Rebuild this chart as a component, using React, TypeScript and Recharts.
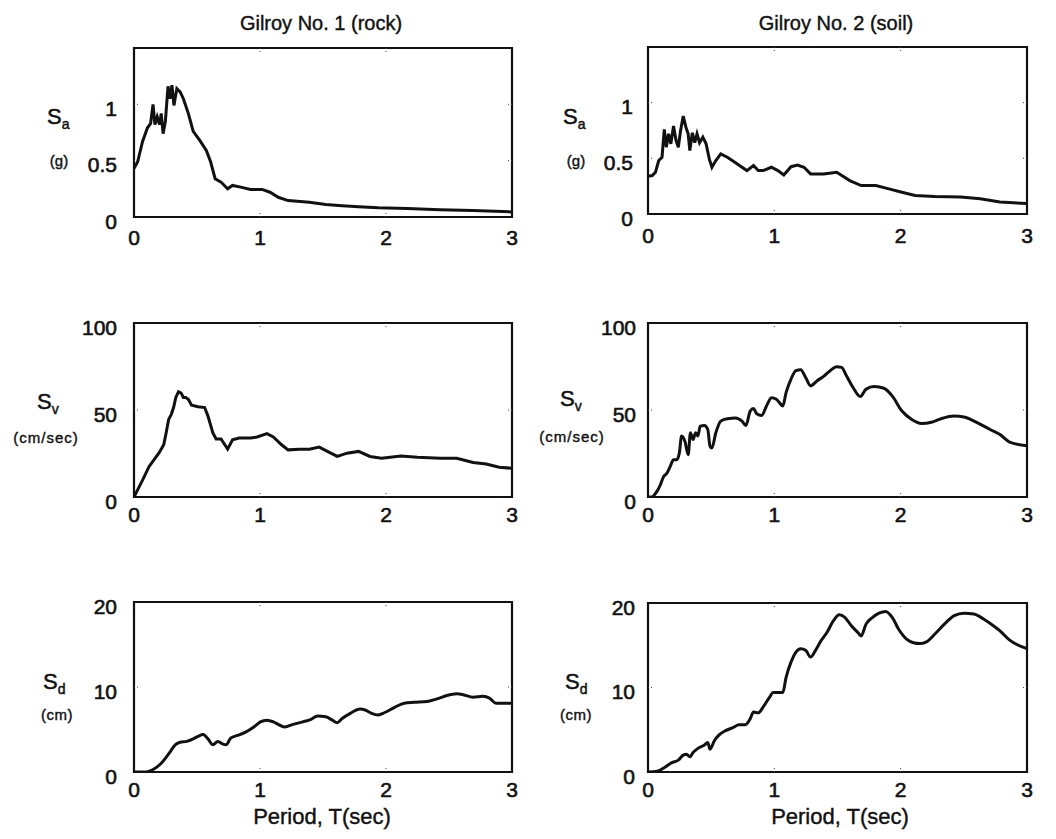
import React from "react";
import { LineChart, Line, XAxis, YAxis, ReferenceArea, ReferenceLine } from "recharts";

// Period (sec) samples and spectral values for each panel
const rockSaPeriod = [0, 0.029, 0.068, 0.106, 0.132, 0.151, 0.166, 0.184, 0.203, 0.216, 0.231, 0.249, 0.27, 0.286, 0.301, 0.317, 0.34, 0.366, 0.392, 0.431, 0.47, 0.522, 0.574, 0.608, 0.644, 0.691, 0.743, 0.782, 0.847, 0.925, 1.016, 1.08, 1.145, 1.223, 1.392, 1.522, 1.652, 1.782, 1.938, 2.17, 2.43, 2.69, 3.0];
const rockSaValues = [0.43, 0.49, 0.67, 0.79, 0.83, 1.0, 0.82, 0.89, 0.82, 0.92, 0.74, 0.85, 1.16, 1.05, 1.17, 0.99, 1.14, 1.11, 1.05, 0.92, 0.76, 0.68, 0.59, 0.49, 0.34, 0.31, 0.25, 0.28, 0.265, 0.245, 0.245, 0.22, 0.175, 0.146, 0.13, 0.11, 0.1, 0.092, 0.082, 0.075, 0.065, 0.057, 0.045];

const soilSaPeriod = [0, 0.034, 0.059, 0.085, 0.111, 0.129, 0.145, 0.163, 0.181, 0.202, 0.222, 0.24, 0.258, 0.279, 0.3, 0.318, 0.331, 0.351, 0.37, 0.388, 0.408, 0.434, 0.46, 0.486, 0.506, 0.537, 0.576, 0.628, 0.693, 0.744, 0.783, 0.835, 0.873, 0.912, 0.977, 1.028, 1.075, 1.132, 1.183, 1.235, 1.287, 1.39, 1.494, 1.597, 1.687, 1.804, 1.907, 2.01, 2.114, 2.269, 2.475, 2.63, 2.786, 3.0];
const soilSaValues = [0.34, 0.345, 0.375, 0.48, 0.51, 0.76, 0.6, 0.72, 0.63, 0.79, 0.66, 0.6, 0.75, 0.88, 0.78, 0.72, 0.57, 0.73, 0.64, 0.72, 0.64, 0.69, 0.63, 0.49, 0.42, 0.48, 0.54, 0.51, 0.46, 0.42, 0.39, 0.435, 0.39, 0.39, 0.42, 0.39, 0.35, 0.425, 0.44, 0.42, 0.36, 0.36, 0.375, 0.3, 0.255, 0.255, 0.226, 0.196, 0.167, 0.158, 0.152, 0.137, 0.107, 0.095];

const rockSvPeriod = [0, 0.068, 0.119, 0.158, 0.197, 0.236, 0.255, 0.275, 0.296, 0.314, 0.332, 0.353, 0.374, 0.392, 0.41, 0.431, 0.457, 0.509, 0.561, 0.587, 0.626, 0.652, 0.691, 0.743, 0.782, 0.834, 0.925, 0.977, 1.055, 1.106, 1.171, 1.223, 1.314, 1.392, 1.47, 1.535, 1.613, 1.691, 1.782, 1.873, 1.964, 2.119, 2.249, 2.431, 2.561, 2.691, 2.795, 2.899, 3.0];
const rockSvValues = [0, 9.7, 17.4, 21.3, 25.2, 30, 36.8, 44.6, 47.5, 51.4, 57.2, 60.5, 59.7, 57.2, 57.2, 56.2, 52.7, 51.9, 51.4, 46.5, 36.8, 33.3, 33.3, 27.5, 32.9, 33.9, 33.9, 34.5, 36.4, 34.5, 30, 27.1, 27.5, 27.5, 28.7, 26.2, 23.3, 25.2, 26.2, 23.3, 22.3, 23.6, 22.9, 22.3, 22.3, 19.8, 19.0, 17.1, 16.5];

const soilSvPeriod = [0, 0.03, 0.059, 0.098, 0.124, 0.15, 0.176, 0.202, 0.227, 0.248, 0.266, 0.292, 0.318, 0.336, 0.357, 0.377, 0.395, 0.413, 0.447, 0.473, 0.491, 0.506, 0.537, 0.576, 0.628, 0.693, 0.744, 0.775, 0.809, 0.835, 0.86, 0.899, 0.938, 0.977, 1.016, 1.041, 1.067, 1.093, 1.132, 1.171, 1.209, 1.248, 1.287, 1.339, 1.39, 1.442, 1.494, 1.532, 1.571, 1.623, 1.68, 1.726, 1.791, 1.868, 1.933, 2.01, 2.088, 2.165, 2.243, 2.32, 2.424, 2.501, 2.605, 2.708, 2.786, 2.863, 3.0];
const soilSvValues = [0, 0, 2, 7, 11.8, 13.7, 17.6, 21.4, 21.4, 25.3, 35, 32, 24.3, 36.9, 33, 36.9, 35, 40.7, 41.1, 38.8, 29.2, 28.2, 36.9, 43.6, 45, 45.4, 43.6, 41.1, 49.4, 50.8, 47.9, 46.9, 52.3, 57.1, 56.2, 54.2, 52.3, 60, 67.8, 72.6, 73.2, 68.7, 63.9, 66.8, 69.3, 72.6, 74.9, 74.5, 69.7, 62.9, 57.7, 62, 63.5, 62.5, 58.1, 49.4, 44.6, 42.3, 43, 45, 46.5, 46, 42.7, 38.8, 35.9, 31.5, 29.5];

const rockSdPeriod = [0, 0.094, 0.158, 0.21, 0.249, 0.288, 0.327, 0.366, 0.418, 0.47, 0.509, 0.548, 0.587, 0.626, 0.665, 0.704, 0.73, 0.769, 0.821, 0.886, 0.951, 1.003, 1.055, 1.106, 1.158, 1.197, 1.262, 1.34, 1.405, 1.457, 1.522, 1.574, 1.613, 1.652, 1.717, 1.795, 1.834, 1.886, 1.938, 1.99, 2.068, 2.145, 2.223, 2.327, 2.405, 2.483, 2.561, 2.613, 2.691, 2.769, 2.821, 2.873, 3.0];
const rockSdValues = [0, 0, 0.35, 0.94, 1.6, 2.4, 3.2, 3.5, 3.6, 3.9, 4.2, 4.4, 3.9, 3.2, 3.6, 3.3, 3.2, 4.0, 4.3, 4.7, 5.3, 5.9, 6.1, 5.9, 5.5, 5.3, 5.6, 5.9, 6.2, 6.6, 6.5, 6.1, 5.8, 6.3, 6.9, 7.4, 7.3, 6.9, 6.7, 7.0, 7.6, 8.1, 8.2, 8.3, 8.6, 9.0, 9.2, 9.1, 8.8, 8.9, 8.7, 8.1, 8.1];

const soilSdPeriod = [0, 0.072, 0.137, 0.189, 0.24, 0.279, 0.305, 0.331, 0.357, 0.395, 0.447, 0.473, 0.491, 0.525, 0.563, 0.615, 0.68, 0.718, 0.77, 0.809, 0.835, 0.873, 0.912, 0.964, 0.99, 1.028, 1.067, 1.093, 1.132, 1.171, 1.209, 1.248, 1.287, 1.326, 1.364, 1.416, 1.468, 1.514, 1.558, 1.61, 1.661, 1.687, 1.726, 1.778, 1.829, 1.881, 1.933, 1.984, 2.049, 2.101, 2.152, 2.204, 2.269, 2.346, 2.424, 2.501, 2.579, 2.656, 2.734, 2.786, 2.863, 3.0];
const soilSdValues = [0, 0.1, 0.6, 1.1, 1.4, 2.0, 2.1, 1.8, 2.3, 2.8, 3.2, 3.5, 2.7, 3.7, 4.4, 4.9, 5.3, 5.6, 5.6, 6.3, 7.1, 7.0, 7.7, 8.9, 9.4, 9.4, 9.4, 11.2, 13.0, 14.2, 14.6, 14.4, 13.6, 14.4, 15.4, 16.5, 17.9, 18.6, 18.3, 17.3, 16.5, 16.1, 17.5, 18.3, 18.8, 19.0, 18.3, 16.9, 15.7, 15.3, 15.2, 15.4, 16.3, 17.5, 18.5, 18.8, 18.7, 18.1, 17.3, 16.7, 15.6, 14.6];

const periodTicks = [0, 1, 2, 3];
const saTicks = [0, 0.5, 1];
const svTicks = [0, 50, 100];
const sdTicks = [0, 10, 20];

const columnTitles = ["Gilroy No. 1 (rock)", "Gilroy No. 2 (soil)"];
const xAxisTitle = "Period, T(sec)";

const FONT = "'Liberation Sans', Arial, Helvetica, sans-serif";
const INK = "#111";
const ML = 70;
const MT = 10;
const MR = 10;
const MB = 40;

function Panel(props: any) {
  const { left, top, w, h, period, values, max, yTicks, curve, xOff, yGap } = props;
  const data = period.map((t: number, i: number) => ({ t, v: values[i] }));
  const XTick = (p: any) => (
    <text x={p.x} y={p.y + xOff} dy="0.36em" textAnchor="middle" fontSize={21} fontFamily={FONT} fill={INK} stroke={INK} strokeWidth={0.6}>
      {p.payload.value}
    </text>
  );
  const YTick = (p: any) => (
    <text x={p.x - yGap} y={p.y + 4} dy="0.36em" textAnchor="end" fontSize={21} fontFamily={FONT} fill={INK} stroke={INK} strokeWidth={0.6}>
      {p.payload.value}
    </text>
  );
  const dx = (3 * 5) / w;
  const dy = (max * 5) / h;
  const innerX = periodTicks.filter((t) => t > 0 && t < 3);
  const innerY = yTicks.filter((t: number) => t > 0 && t < max);
  const tickStyle = { stroke: "#444", strokeWidth: 1, strokeDasharray: "1 2" };
  return (
    <div style={{ position: "absolute", left: left - ML, top: top - MT }}>
      <LineChart width={w + ML + MR} height={h + MT + MB} data={data} margin={{ top: MT, right: MR, left: 0, bottom: 0 }}>
        <XAxis type="number" dataKey="t" domain={[0, 3]} ticks={periodTicks} axisLine={false} tickLine={false} tickSize={0} tickMargin={0} height={MB} tick={XTick} allowDataOverflow interval={0} />
        <YAxis type="number" domain={[0, max]} ticks={yTicks} axisLine={false} tickLine={false} tickSize={0} tickMargin={0} width={ML} tick={YTick} allowDataOverflow interval={0} />
        {innerX.map((t) => (
          <ReferenceLine key={"xb" + t} segment={[{ x: t, y: 0 }, { x: t, y: dy }]} {...tickStyle} ifOverflow="visible" />
        ))}
        {innerX.map((t) => (
          <ReferenceLine key={"xt" + t} segment={[{ x: t, y: max }, { x: t, y: max - dy }]} {...tickStyle} ifOverflow="visible" />
        ))}
        {innerY.map((v: number) => (
          <ReferenceLine key={"yl" + v} segment={[{ x: 0, y: v }, { x: dx, y: v }]} {...tickStyle} ifOverflow="visible" />
        ))}
        {innerY.map((v: number) => (
          <ReferenceLine key={"yr" + v} segment={[{ x: 3, y: v }, { x: 3 - dx, y: v }]} {...tickStyle} ifOverflow="visible" />
        ))}
        <ReferenceArea x1={0} x2={3} y1={0} y2={max} fill="none" stroke={INK} strokeWidth={2.2} ifOverflow="visible" />
        <Line dataKey="v" type={curve} stroke={INK} strokeWidth={3} dot={false} isAnimationActive={false} />
      </LineChart>
    </div>
  );
}

const abs = (x: number, y: number, extra: any = {}) => ({
  position: "absolute" as const,
  left: x,
  top: y,
  transform: "translate(-50%, -50%)",
  whiteSpace: "nowrap" as const,
  fontFamily: FONT,
  color: INK,
  lineHeight: 1,
  WebkitTextStroke: "0.4px #111",
  ...extra,
});

function SLabel({ x, y, sub }: { x: number; y: number; sub: string }) {
  return (
    <div style={{ position: "absolute", left: x, top: y - 12, fontFamily: FONT, color: INK, lineHeight: 1, whiteSpace: "nowrap", WebkitTextStroke: "0.5px #111" }}>
      <span style={{ fontSize: 22 }}>S</span>
      <span style={{ fontSize: 14, position: "relative", top: 5 }}>{sub}</span>
    </div>
  );
}

export default function App() {
  return (
    <div style={{ position: "fixed", left: 0, top: 0, width: 1056, height: 839, background: "#fff", overflow: "hidden" }}>
      <div style={abs(321, 23, { fontSize: 20 })}>{columnTitles[0]}</div>
      <div style={abs(836, 23, { fontSize: 20 })}>{columnTitles[1]}</div>

      <Panel left={134} top={48} w={378} h={169} period={rockSaPeriod} values={rockSaValues} max={1.5} yTicks={saTicks} curve="linear" xOff={20} yGap={17} />
      <Panel left={648} top={47} w={379} h={167} period={soilSaPeriod} values={soilSaValues} max={1.5} yTicks={saTicks} curve="linear" xOff={21} yGap={15} />
      <Panel left={134} top={323} w={378} h={174} period={rockSvPeriod} values={rockSvValues} max={100} yTicks={svTicks} curve="linear" xOff={17} yGap={17} />
      <Panel left={648} top={323} w={379} h={174} period={soilSvPeriod} values={soilSvValues} max={100} yTicks={svTicks} curve="monotoneX" xOff={17} yGap={12} />
      <Panel left={134} top={602} w={378} h={170} period={rockSdPeriod} values={rockSdValues} max={20} yTicks={sdTicks} curve="monotoneX" xOff={17} yGap={17} />
      <Panel left={648} top={603} w={379} h={169} period={soilSdPeriod} values={soilSdValues} max={20} yTicks={sdTicks} curve="monotoneX" xOff={17} yGap={13} />

      <SLabel x={47} y={118} sub="a" />
      <div style={abs(59, 160, { fontSize: 15 })}>(g)</div>
      <SLabel x={563} y={118} sub="a" />
      <div style={abs(576, 160, { fontSize: 15 })}>(g)</div>

      <SLabel x={37} y={403} sub="v" />
      <div style={abs(46, 437, { fontSize: 15, letterSpacing: 1 })}>(cm/sec)</div>
      <SLabel x={560} y={400} sub="v" />
      <div style={abs(572, 436, { fontSize: 15, letterSpacing: 1 })}>(cm/sec)</div>

      <SLabel x={43} y={683} sub="d" />
      <div style={abs(57, 714, { fontSize: 15, letterSpacing: 0.5 })}>(cm)</div>
      <SLabel x={565} y={683} sub="d" />
      <div style={abs(576, 714, { fontSize: 15, letterSpacing: 0.5 })}>(cm)</div>

      <div style={abs(322, 817, { fontSize: 22 })}>{xAxisTitle}</div>
      <div style={abs(840, 817, { fontSize: 22 })}>{xAxisTitle}</div>
    </div>
  );
}
